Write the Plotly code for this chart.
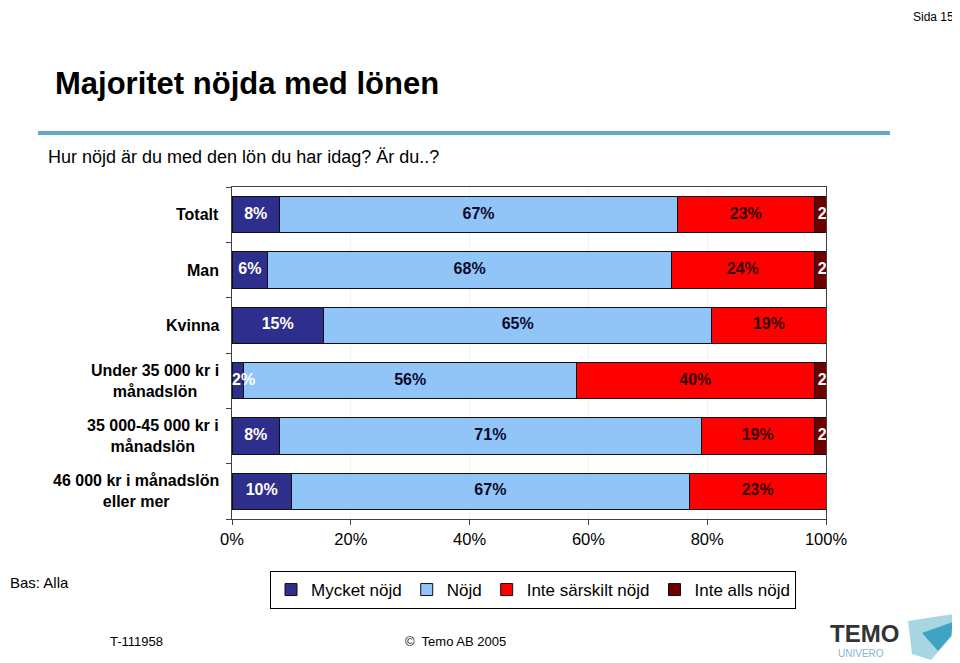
import plotly.graph_objects as go

# ---------------- data ----------------
categories = ["Totalt", "Man", "Kvinna",
              "Under 35 000 kr i<br>månadslön",
              "35 000-45 000 kr i<br>månadslön",
              "46 000 kr i månadslön<br>eller mer"]
series_names = ["Mycket nöjd", "Nöjd", "Inte särskilt nöjd", "Inte alls nöjd"]
mycket_nojd = [8, 6, 15.4, 2, 8, 10]
nojd = [67, 68, 65.4, 56, 71, 67]
inte_sarskilt = [23, 24, 19.2, 40, 19, 23]
inte_alls = [2, 2, 0, 2, 2, 0]
x_ticks = [0, 20, 40, 60, 80, 100]

series_values = [mycket_nojd, nojd, inte_sarskilt, inte_alls]
colors = ["#2E2E8C", "#92C5F7", "#FF0000", "#6E0000"]
label_colors = ["#FFFFFF", "#0A0A2A", "#330000", "#FFFFFF"]

FONT = "Liberation Sans, Arial, Helvetica, sans-serif"

# page is offset by the 8px body margin; work in page pixels
OFF = 8
W, H = 960 - OFF, 663 - OFF
L, R, T, B = 232, 826, 187, 519  # plot area in page pixels


def px(x):
    return (x - L) / (R - L)


def py(y):
    return (B - y) / (B - T)


fig = go.Figure()

for name, vals, col in zip(series_names, series_values, colors):
    fig.add_trace(go.Bar(
        y=list(range(len(categories))), x=vals, name=name, orientation="h",
        marker=dict(color=col, line=dict(color="#101010", width=1)),
        textposition="none", hoverinfo="skip"))

# segment labels (clipped to the plot area like the original)
cum = [0] * len(categories)
for si, (vals, tc) in enumerate(zip(series_values, label_colors)):
    xs, ys, txt, pos = [], [], [], []
    for i, v in enumerate(vals):
        start = cum[i]
        cum[i] += v
        if v <= 0:
            continue
        if v < 4:
            xs.append(start + (0.6 if si == 3 else 0))
            pos.append("middle right")
        else:
            xs.append(start + v / 2)
            pos.append("middle center")
        ys.append(i)
        txt.append(f"{round(v)}%")
    fig.add_trace(go.Scatter(
        x=xs, y=ys, text=txt, mode="text", textposition=pos,
        textfont=dict(family=FONT, size=16, color=tc, weight="bold"),
        cliponaxis=True, showlegend=False, hoverinfo="skip"))

annotations = []
# category labels (centered multi-line)
for i, c in enumerate(categories):
    annotations.append(dict(
        x=px(221), xref="paper", y=i, yref="y", text=f"<b>{c}</b>",
        showarrow=False, xanchor="right", yanchor="middle", align="center",
        font=dict(family=FONT, size=16, color="#000000")))

annotations += [
    dict(x=px(956), y=py(8), xref="paper", yref="paper", text="Sida 15",
         showarrow=False, xanchor="right", yanchor="top",
         font=dict(family=FONT, size=12, color="#000000")),
    dict(x=px(53), y=py(83), xref="paper", yref="paper",
         text="<b>Majoritet nöjda med lönen</b>", showarrow=False,
         xanchor="left", yanchor="middle",
         font=dict(family=FONT, size=31, color="#000000")),
    dict(x=px(46), y=py(157), xref="paper", yref="paper",
         text="Hur nöjd är du med den lön du har idag? Är du..?",
         showarrow=False, xanchor="left", yanchor="middle",
         font=dict(family=FONT, size=18, color="#000000")),
    dict(x=px(8), y=py(582), xref="paper", yref="paper", text="Bas: Alla",
         showarrow=False, xanchor="left", yanchor="middle",
         font=dict(family=FONT, size=15, color="#000000")),
    dict(x=px(108), y=py(641), xref="paper", yref="paper", text="T-111958",
         showarrow=False, xanchor="left", yanchor="middle",
         font=dict(family=FONT, size=13, color="#000000")),
    dict(x=px(403), y=py(641), xref="paper", yref="paper",
         text="©  Temo AB 2005", showarrow=False, xanchor="left",
         yanchor="middle", font=dict(family=FONT, size=13, color="#000000")),
    dict(x=px(828), y=py(633), xref="paper", yref="paper", text="<b>TEMO</b>",
         showarrow=False, xanchor="left", yanchor="middle",
         font=dict(family=FONT, size=24, color="#333333")),
    dict(x=px(836), y=py(653), xref="paper", yref="paper", text="UNIVERO",
         showarrow=False, xanchor="left", yanchor="middle",
         font=dict(family=FONT, size=10, color="#7DB9CF")),
]


def path(points):
    return "M " + " L ".join(f"{px(a)},{py(b)}" for a, b in points) + " Z"


shapes = [
    # blue rule under title
    dict(type="line", xref="paper", yref="paper", x0=px(38), x1=px(890),
         y0=py(133), y1=py(133), line=dict(color="#62A7C6", width=4)),
    # logo shapes
    dict(type="path", xref="paper", yref="paper",
         path=path([(908, 621), (954, 614), (952, 636), (931, 660), (912, 654)]),
         fillcolor="#A9D6E5", line=dict(width=0)),
    dict(type="path", xref="paper", yref="paper",
         path=path([(922, 633), (953, 622), (951, 636), (938, 651)]),
         fillcolor="#3FA3C3", line=dict(width=0)),
]

fig.update_layout(
    width=W, height=H,
    margin=dict(l=L - OFF, r=W - (R - OFF), t=T - OFF, b=H - (B - OFF), pad=0),
    paper_bgcolor="white", plot_bgcolor="white",
    barmode="stack", bargap=0.34,
    showlegend=True,
    legend=dict(orientation="h", x=px(533), xanchor="center", y=py(571),
                yanchor="top", bordercolor="#000000", borderwidth=1,
                bgcolor="white", itemwidth=30, traceorder="normal",
                font=dict(family=FONT, size=17, color="#000000")),
    xaxis=dict(range=[0, 100], tickvals=x_ticks,
               ticktext=[f"{t}%" for t in x_ticks], ticks="outside",
               ticklen=5, tickcolor="#404040", showline=True,
               linecolor="#404040", linewidth=1, mirror=True,
               showgrid=True, gridcolor="#F2F2F2", zeroline=False,
               tickfont=dict(family=FONT, size=16.5, color="#000000")),
    yaxis=dict(range=[len(categories) - 0.5, -0.5],
               tickvals=[i + 0.5 for i in range(-1, len(categories))],
               showticklabels=False, ticks="outside", ticklen=5,
               tickcolor="#404040", showline=True, linecolor="#404040",
               linewidth=1, mirror=True, showgrid=False, zeroline=False),
    annotations=annotations, shapes=shapes,
)

fig.write_html("out.html")
